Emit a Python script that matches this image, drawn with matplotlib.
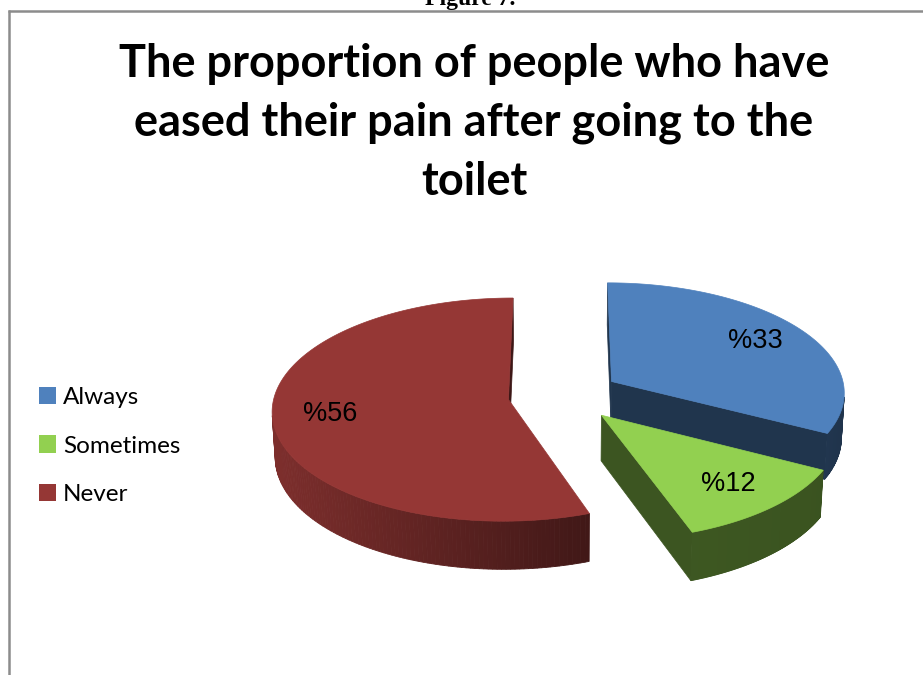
import numpy as np
import matplotlib
matplotlib.use("Agg")
import matplotlib.pyplot as plt
from matplotlib.patches import Polygon, Patch
from matplotlib.colors import to_rgb

# Survey answers
categories = ["Always", "Sometimes", "Never"]
values = [33, 12, 56]
labels = ["%33", "%12", "%56"]
top_colors = ["#4f81bd", "#92d050", "#953735"]

title = "The proportion of people who have\neased their pain after going to the\ntoilet"

W, H = 923, 675
fig = plt.figure(figsize=(W / 100, H / 100), dpi=100)
ax = fig.add_axes([0, 0, 1, 1])
ax.set_xlim(0, W)
ax.set_ylim(H, 0)
ax.axis("off")

# 3-D pie geometry (pixel space of the axes)
cx, cy = 564.0, 395.0      # centre of the top face
S = 234.0                  # radius scale
elev = np.deg2rad(28.0)    # tilt of the pie
ca, sa = np.cos(elev), np.sin(elev)
D = 9.8                    # camera distance (in radii)
thick = 0.22               # slice height (in radii)
explode = 0.24             # explode distance (in radii)
cam = np.array([0.0, -D * ca, D * sa])


def proj(x, y, z):
    x, y, z = np.broadcast_arrays(np.asarray(x, float), np.asarray(y, float), np.asarray(z, float))
    depth = y * ca - z * sa
    f = D / (D + depth)
    return cx + S * x * f, cy - S * (y * sa + z * ca) * f


def shade(color, k):
    r, g, b = to_rgb(color)
    return (r * k, g * k, b * k)


total = float(sum(values))
start = 90.0
cum = 0.0
slices = []
for v, col in zip(values, top_colors):
    b = start - cum
    a = b - 360.0 * v / total
    cum += 360.0 * v / total
    mid = np.deg2rad((a + b) / 2)
    ox, oy = explode * np.cos(mid), explode * np.sin(mid)
    slices.append((np.deg2rad(a), np.deg2rad(b), ox, oy, col, mid))

# paint back to front
order = sorted(range(len(slices)), key=lambda i: -(slices[i][3] + 0.5 * np.sin(slices[i][5])))

for i in order:
    a, b, ox, oy, col, mid = slices[i]
    th = np.linspace(a, b, 200)
    px, py = ox + np.cos(th), oy + np.sin(th)

    # radial cut faces
    for ang, sign in ((a, -1), (b, 1)):
        n = np.array([-sign * np.sin(ang), sign * np.cos(ang), 0.0])
        mp = np.array([ox + 0.5 * np.cos(ang), oy + 0.5 * np.sin(ang), -thick / 2])
        if n @ (cam - mp) > 0:
            ex, ey = ox + np.cos(ang), oy + np.sin(ang)
            qx, qy = proj([ox, ex, ex, ox], [oy, ey, ey, oy], [0, 0, -thick, -thick])
            ax.add_patch(Polygon(np.c_[qx, qy], closed=True, fc=shade(col, 0.41),
                                 ec=shade(col, 0.41), lw=0.5, zorder=2))

    # outer curved wall
    tx, ty = proj(px, py, 0.0)
    bx, by = proj(px, py, -thick)
    vis = []
    for k in range(len(th) - 1):
        tm = 0.5 * (th[k] + th[k + 1])
        n = np.array([np.cos(tm), np.sin(tm), 0.0])
        p = np.array([ox + np.cos(tm), oy + np.sin(tm), -thick / 2])
        if n @ (cam - p) > 0:
            vis.append(k)
    if vis:
        xs = tx[vis]
        x0, x1 = xs.min(), xs.max() + 1e-9
        for k in vis:
            u = (0.5 * (tx[k] + tx[k + 1]) - x0) / (x1 - x0)
            if col == "#953735":
                kf = 0.84 - 0.40 * u
            else:
                kf = 0.42 - 0.02 * u
            c = shade(col, kf)
            quad = np.array([[tx[k], ty[k]], [tx[k + 1], ty[k + 1]],
                             [bx[k + 1], by[k + 1]], [bx[k], by[k]]])
            ax.add_patch(Polygon(quad, closed=True, fc=c, ec=c, lw=0.6, zorder=2))

    # top face
    fx, fy = proj(np.r_[ox, px], np.r_[oy, py], 0.0)
    ax.add_patch(Polygon(np.c_[fx, fy], closed=True, fc=col, ec=col, lw=0.5, zorder=3))

# value labels on the top faces
for (a, b, ox, oy, col, mid), lab in zip(slices, labels):
    lx, ly = proj(ox + 0.76 * np.cos(mid), oy + 0.76 * np.sin(mid), 0.0)
    ax.text(lx, ly, lab, ha="center", va="center", fontsize=19.5,
            family="Liberation Sans", color="black", zorder=5)

# title
fig.text(474 / W, 1 - 123 / H, title, ha="center", va="center",
         fontsize=32.5, fontweight="bold", family="Lato", linespacing=1.5)

# caption above the frame (mostly outside the page)
fig.text(470 / W, 1 - 5.5 / H, "Figure 7.", ha="center", va="baseline",
         fontsize=17, fontweight="bold", family="Liberation Serif")

# frame
ax.plot([8, W], [10.5, 10.5], color="#8c8c8c", lw=1.8, solid_capstyle="butt", zorder=6)
ax.plot([9, 9], [10, H], color="#8c8c8c", lw=1.8, solid_capstyle="butt", zorder=6)

# legend
handles = [Patch(facecolor=c, edgecolor="none") for c in top_colors]
leg = ax.legend(handles, categories, loc="center left", bbox_to_anchor=(29 / W, 1 - 446 / H),
                frameon=False, prop={"family": "Lato", "size": 17.5},
                handlelength=0.7, handleheight=0.7, handletextpad=0.3,
                labelspacing=1.12, borderaxespad=0)

fig.savefig("out.png", dpi=100)
